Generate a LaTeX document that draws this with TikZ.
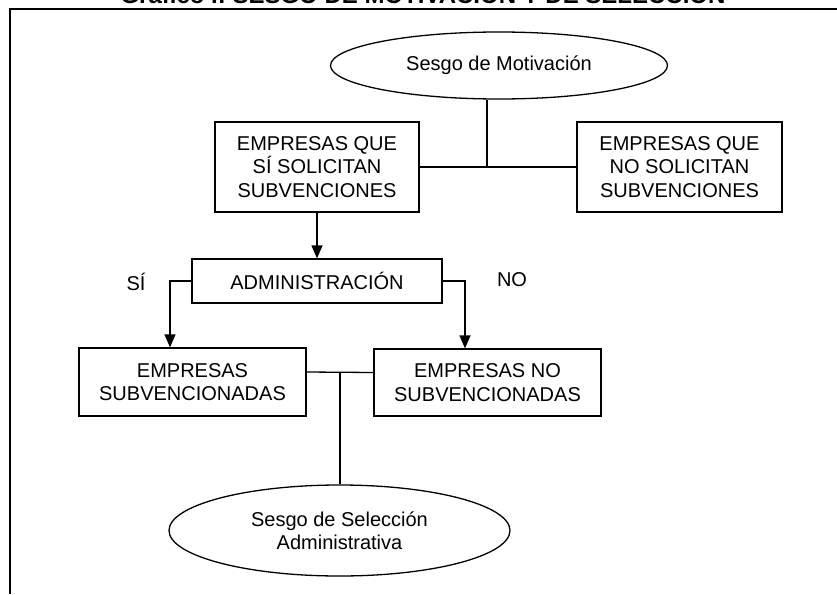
\documentclass[tikz,border=0pt]{standalone}
\usepackage{fontspec}
\setmainfont{Liberation Sans}
\usetikzlibrary{shapes.geometric,arrows.meta}

\begin{document}
\begin{tikzpicture}[x=1pt,y=-1pt,
  txt/.style={font=\fontsize{20}{23.5}\selectfont, align=center},
  caja/.style={txt, draw, line width=1.3pt, inner sep=0pt},
  burbuja/.style={txt, draw, ellipse, line width=1.3pt, inner sep=0pt},
  flecha/.style={line width=1.3pt, -{Triangle[length=13pt,width=11pt]}},
  linea/.style={line width=1.3pt}]
  \clip (0,0) rectangle (837,594);
  % Title and frame (manual placement)
  \node[anchor=base, font=\bfseries\fontsize{24}{24}\selectfont] (titulo) at (423,4)
    {Gráfico I: SESGO DE MOTIVACIÓN Y DE SELECCIÓN};
  \draw[line width=2pt] (10,594) -- (10,9) -- (837,9);

  % Nodes (manual placement)
  \node[burbuja, minimum width=337pt, minimum height=67pt] (motiv) at (499,65.5) {Sesgo de Motivación};
  \node[caja, minimum width=204pt, minimum height=90pt] (quesi) at (317,167)
    {EMPRESAS QUE\\SÍ SOLICITAN\\SUBVENCIONES};
  \node[caja, minimum width=205pt, minimum height=90pt] (queno) at (679.5,167)
    {EMPRESAS QUE\\NO SOLICITAN\\SUBVENCIONES};
  \node[caja, minimum width=250pt, minimum height=44pt] (admin) at (317,281) {ADMINISTRACIÓN};
  \node[txt] (si) at (136,282) {SÍ};
  \node[txt] (no) at (512,280) {NO};
  \node[caja, minimum width=227pt, minimum height=68pt] (subv) at (192.5,382)
    {EMPRESAS\\SUBVENCIONADAS};
  \node[caja, minimum width=227pt, minimum height=67pt] (nosubv) at (487.5,382.5)
    {EMPRESAS NO\\SUBVENCIONADAS};
  \node[burbuja, minimum width=341pt, minimum height=91pt] (selec) at (339.5,530.5)
    {Sesgo de Selección\\Administrativa};

  \coordinate (j1) at (487,167);
  \coordinate (j2) at (340,372);

  % Connectors
  \draw[linea] (quesi.east) -- (queno.west);
  \draw[linea] (j1) -- (j1 |- motiv.south);
  \draw[flecha] (quesi.south) -- (admin.north);
  \draw[flecha] (admin.west) -| ([xshift=-22.5pt]subv.north);
  \draw[flecha] (admin.east) -| ([xshift=-22.5pt]nosubv.north);
  \draw[linea] ([yshift=10pt]subv.east) -- ([yshift=10pt]nosubv.west);
  \draw[linea] (j2) -- (j2 |- selec.north);
\end{tikzpicture}
\end{document}
